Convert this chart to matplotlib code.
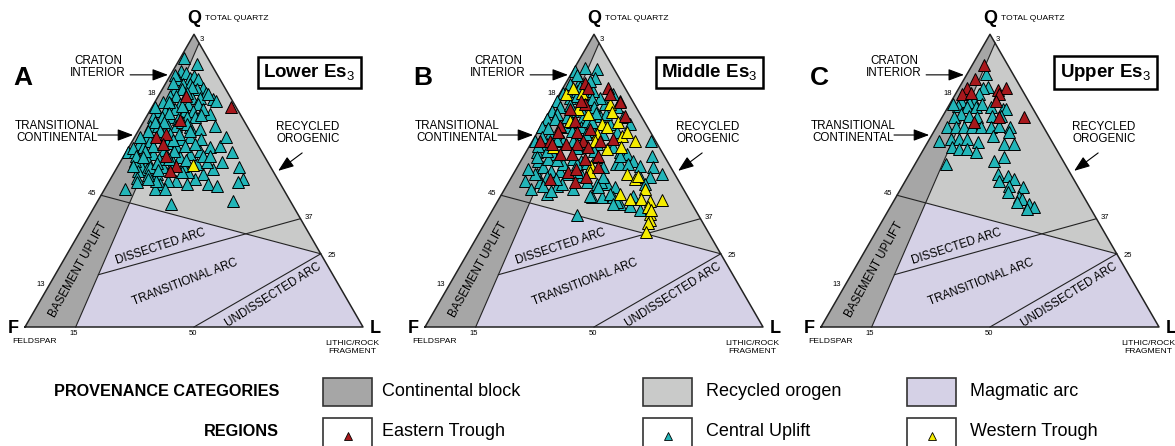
#!/usr/bin/env python3
"""QFL provenance ternary plots (Dickinson fields) for Lower/Middle/Upper Es3"""

import numpy as np
import matplotlib; matplotlib.use('Agg')
import matplotlib.pyplot as plt
from matplotlib.patches import Polygon, Rectangle

plt.rcParams['font.family'] = ['Liberation Sans', 'DejaVu Sans']
plt.rcParams['mathtext.fontset'] = 'custom'
plt.rcParams['mathtext.rm'] = 'Liberation Sans'
plt.rcParams['mathtext.bf'] = 'Liberation Sans:bold'

##########################################################
# data: (Q %, L %) for each sample, F = 100 - Q - L
lower_central = [
    (92, 1), (90, 6), (87.5, 2.4), (86.9, 4.1), (85.2, 6.2), (84.7, 3.0), (85.8, 7.1),
    (84.7, 8.9), (83, 5.1), (83, 7.3), (81.8, 11.8), (81.3, 3.7), (81.3, 5.7), (81.3, 10.1),
    (80.1, 13.6), (77.8, 16.8), (77.3, 17.9), (79, 3.4), (79, 5.3), (78.4, 10.1), (78.4, 12.5),
    (76.7, 2.5), (76.1, 5.2), (76.1, 7.7), (76.1, 10.2), (76.1, 13.1), (72.7, 18.3), (73.9, 2.0),
    (73.9, 4.5), (74.4, 7.1), (73.9, 10.4), (73.9, 12.9), (74.4, 15.5), (71.6, 2.1), (71.6, 4.6),
    (71.6, 7.1), (71, 9.8), (71.6, 12), (71.6, 14.4), (68.8, 21.8), (68.8, 2.5), (68.8, 5),
    (68.8, 8), (68.8, 10.4), (68.2, 14.7), (67.6, 17.9), (59.7, 0.7), (59.7, 2.7), (62.5, 2.6),
    (64.8, 3.6), (61.4, 4.3), (59.1, 8.4), (56.8, 8.1), (55.1, 6.9), (54, 9), (52.3, 12.8),
    (54.5, 13.6), (56.3, 15.7), (58, 16.8), (59.1, 19.3), (60.2, 21.6), (61.4, 24), (61.9, 26.6),
    (64.8, 27.2), (59.7, 31.3), (56.3, 30), (54, 28.7), (52.3, 26.6), (50.6, 24.9), (48.9, 23.4),
    (50, 19.8), (50, 17.4), (48.9, 15.5), (47.2, 14.8), (47.2, 17.8), (52.8, 21.9), (55.7, 22.9),
    (56.3, 25.6), (54.5, 36.2), (50.6, 39.2), (49.4, 38.4), (48.9, 29.8), (48.3, 32.6), (47.2, 6.0),
    (42, 22.3), (43.2, 40), (64.2, 20.1), (64.8, 16.4), (64.2, 14.2), (61.9, 13.8), (61.9, 16.3),
    (62.5, 19), (58.5, 23.4), (58.5, 25.4), (55.1, 19.2), (56.8, 4.1), (63.6, 5.1), (53.4, 6.8),
    (50, 13.9), (54.5, 9.6), (66, 10), (66, 12.5), (65.5, 7), (63, 10.5), (60.5, 11), (60, 14),
    (57.5, 11), (57, 19), (53, 20), (52, 10.5), (86, 1.5), (83.5, 2), (82, 8.5), (80, 8),
    (79.5, 14.5), (77, 4), (75, 1), (75.5, 8.8), (73, 6), (72.5, 15.8), (70, 3.5), (70, 6),
    (70, 11.5), (69.5, 13.2), (67, 3), (67, 6.5), (66.8, 15.5), (65, 1.5), (64, 11.8), (62, 7),
    (61, 1.5), (60, 5.5), (58.5, 3.5), (58, 6), (57.5, 14), (56, 11), (55, 4.5), (53.5, 12.5),
    (51, 7.5), (50.5, 11), (49.5, 8.5),
]
lower_eastern = [
    (78.8, 8.2), (75.2, 23.2), (70.7, 10.5), (64.8, 6.3), (66.1, 8.8), (62.5, 9.7), (58.5, 12.6),
    (55.1, 17.2), (53.4, 16.2),
]
lower_western = [(55.5, 22.1)]

middle_central = [
    (87.5, 0.5), (88.6, 3.0), (88.1, 6.7), (84.1, 3.8), (85.2, 7.6), (80.1, 0.9), (78.4, 3.7),
    (77.3, 0.3), (73.9, 0.5), (75, 2.4), (71, 0.5), (68.2, 0.4), (63.6, 0.7), (59.7, 3.2),
    (56.8, 5.1), (52.3, 6.9), (49.4, 9.3), (45.5, 13.3), (48.3, 14.8), (47.2, 20.2), (49.4, 23.1),
    (48.9, 26.3), (48.9, 29.3), (47.7, 32.4), (44.3, 27.2), (44.3, 30.1), (38.1, 25.8), (44.3, 33.6),
    (42, 36.6), (41.5, 39.9), (39.8, 43.6), (44.9, 39.2), (63.6, 35.2), (58.5, 37.8), (54.5, 40.3),
    (52.3, 43.9), (51.1, 38), (51.1, 41), (48.9, 40.6), (79.5, 16), (77.3, 19), (75, 19.2),
    (71.6, 22.8), (69.3, 26), (69.3, 20.1), (65.9, 19.8), (72.2, 15.6), (59.7, 27.8), (59.1, 30.1),
    (56.8, 33.2), (55.7, 28.8), (54.5, 25.5), (58, 21.7), (61.4, 24), (61.4, 17.1), (65.9, 12.4),
    (68.2, 7.8), (65.9, 6.5), (65.9, 4.0), (62.5, 4.8), (59.1, 8.4), (54.5, 7.8), (53.4, 10.7),
    (53.4, 13.2), (52.3, 15.8), (51.7, 20.5), (57.4, 15.1), (56.8, 17.9), (62.5, 19.5), (66.5, 23.5),
    (76.1, 15.2), (78.4, 12.5), (76.1, 9.8), (73.9, 6.9), (71.6, 6.1), (71.6, 11), (67, 16.3),
    (68.2, 12.2), (57.4, 7.8), (52.3, 6.4), (51.1, 10.4), (48.3, 10.9), (48.9, 16), (46.6, 14.1),
    (44.9, 26.3), (49.4, 27.5), (45.5, 31.9), (42.6, 35.4), (42, 34.7), (51.1, 27.2), (55.7, 29.8),
    (55.7, 32.3), (55.1, 36), (61.4, 25), (58.5, 28.4), (47.7, 27.4), (55.7, 13), (55.7, 17),
    (80.7, 4.5), (79.5, 8), (80.7, 9.5), (72.7, 2.6), (63.6, 9.1), (70.5, 12.6), (72.7, 17.3),
    (84.1, 6.7), (86, 2), (83, 1.5), (82, 5), (79, 5.5), (78, 10.5), (76, 5), (75, 12.5),
    (74.5, 9), (73, 14), (71, 3), (70, 8.5), (70, 14.5), (68, 2.5), (67, 10), (66, 14.5), (65, 2),
    (64, 7), (63.5, 12), (62, 2.5), (61, 14.5), (60, 6), (60, 20), (58, 4), (57, 10.5), (56, 20),
    (54, 3.5), (53, 18.5), (50.5, 13.5), (50, 4.5), (47, 8),
]
middle_eastern = [
    (83.5, 5.5), (81.8, 7.4), (81.8, 13.3), (79.5, 14.9), (76.7, 19.3), (72.2, 23), (76.1, 9.2),
    (77.3, 7.6), (74.4, 5.7), (70.5, 9.1), (68.8, 5.5), (66.5, 6.2), (63.6, 2.2), (63.6, 5.1),
    (66.5, 11.6), (63.6, 15), (67.6, 15), (63.6, 19.9), (64.2, 23.6), (62.5, 6.2), (62.5, 10.6),
    (62.5, 13.6), (61.4, 17.6), (59.1, 10.4), (59.1, 13.8), (57.4, 18.6), (58.5, 22), (52.8, 16),
    (54, 17.8), (51.1, 22.2), (50.6, 11.6), (54.5, 24), (49.4, 19.6),
]
middle_western = [
    (79.5, 2.1), (81.8, 2.9), (80.1, 6.3), (76.1, 8.3), (74.4, 8.1), (76.1, 16.6), (73.3, 18.6),
    (69.3, 17.6), (65.9, 17.8), (68.2, 19.6), (69.9, 22.2), (65.3, 25.5), (63.6, 30.3), (70.5, 7.7),
    (63.6, 18.4), (66.5, 26.4), (72.7, 12), (61.4, 7.2), (61.4, 27.4), (55.1, 21.7), (52.8, 22.4),
    (52.3, 33.5), (50.6, 36.8), (51.7, 37.2), (47.2, 41.4), (45.5, 34.9), (43.8, 38.7), (43.8, 42.1),
    (43.2, 44.9), (43.4, 48.3), (40.9, 45.5), (38.6, 47.2), (36.4, 48.5), (35.5, 48.3), (32.4, 49.3),
    (39.8, 47.1), (60.8, 23.3),
]

upper_central = [
    (86.6, 5.5), (82, 8.3), (81.6, 7), (79.5, 7), (77.3, 6.6), (76.7, 5.4), (77.3, 2.7),
    (75.6, 2.6), (76.1, 0.9), (75, 5.8), (75, 8.3), (76.1, 9.7), (75, 12.7), (72.2, 14.6),
    (74.4, 16.5), (74.4, 17.5), (72.2, 17.1), (72.7, 5), (72.2, 7.7), (71.6, 10.5), (71.6, 3.6),
    (68.2, 3.3), (68.2, 5.8), (68.2, 8.3), (68.2, 10.7), (68.2, 13.2), (68.2, 16.1), (68.8, 18.3),
    (68.2, 21.8), (66.5, 22.5), (65.3, 18.1), (63.6, 3.2), (64.2, 6.3), (64.2, 8.8), (64.2, 11.2),
    (63.1, 14.8), (62.5, 23), (62.5, 25.9), (61.4, 8.2), (60.8, 10.5), (60.8, 12.9), (59.7, 16),
    (55.7, 9.1), (56.8, 22.8), (58, 25.2), (52.3, 26.1), (51.7, 29.4), (50.6, 31.8), (50, 27.7),
    (48.3, 31.6), (47.7, 35.8), (46, 32.2), (44.3, 36.5), (43.8, 37.7), (42, 40.6), (41.1, 42.6),
    (42.6, 36.8), (40.3, 40.9),
]
upper_eastern = [
    (89.5, 3.6), (84.7, 3.2), (81.8, 2.3), (79.5, 2.1), (79.8, 4.6), (80.9, 11.8), (81.8, 13.8),
    (79.5, 13), (77.3, 13.1), (71.6, 16.9), (71.6, 24.3), (69.9, 10.4),
]
upper_western = []

panel_letters = ['A', 'B', 'C']
panel_units = ['Lower', 'Middle', 'Upper']
region_names = ['Central Uplift', 'Western Trough', 'Eastern Trough']
region_colors = ['#22b5b8', '#f4ec00', '#a8181c']
category_names = ['Continental block', 'Recycled orogen', 'Magmatic arc']
category_colors = ['#a6a6a6', '#c9cac9', '#d5d1e6']

##########################################################
def tern(q, l):
    """Ternary (Q%, L%) -> cartesian, F at origin, L at (1, 0)."""
    q = np.asarray(q, dtype=float)
    l = np.asarray(l, dtype=float)
    return l / 100 + q / 200, q / 100 * np.sqrt(3) / 2

def pt(q, l):
    x, y = tern(q, l)
    return np.array([float(x), float(y)])

def intersect(p1, p2, p3, p4):
    d1, d2 = p2 - p1, p4 - p3
    t = np.cross(p3 - p1, d2) / np.cross(d1, d2)
    return p1 + t * d1

##########################################################
def draw_panel(ax, letter, unit, groups):
    """Draw the QFL fields, labels and the samples."""
    apex, fcorn, lcorn = pt(100, 0), pt(0, 0), pt(0, 100)
    cb_top, cb_bot = pt(97, 3), pt(0, 15)
    q45, q25, q37, q13 = pt(45, 0), pt(25, 75), pt(37, 63), pt(13, 0)
    l50 = pt(0, 50)
    p_int = intersect(q45, q25, cb_top, cb_bot)
    r_int = intersect(q37, q13, cb_top, cb_bot)

    ax.add_patch(Polygon([apex, cb_top, cb_bot, fcorn], fc=category_colors[0], ec='none'))
    ax.add_patch(Polygon([cb_top, q25, p_int], fc=category_colors[1], ec='none'))
    ax.add_patch(Polygon([p_int, q25, lcorn, cb_bot], fc=category_colors[2], ec='none'))

    lw = 0.8
    for a, b in [(cb_top, cb_bot), (q45, q25), (q37, r_int), (q25, l50)]:
        ax.plot([a[0], b[0]], [a[1], b[1]], color='#222222', lw=lw)
    tri = np.array([fcorn, lcorn, apex, fcorn])
    ax.plot(tri[:, 0], tri[:, 1], color='#222222', lw=1.1)

    # samples
    for (data, color) in zip(groups, region_colors):
        if len(data) == 0:
            continue
        arr = np.array(data)
        x, y = tern(arr[:, 0], arr[:, 1])
        ax.plot(x, y, '^', ms=8.5, mfc=color, mec='black', mew=0.7, ls='none', zorder=5)

    # corner and tick labels
    ax.text(0.5, 0.913, 'Q', ha='center', va='center', fontsize=13, fontweight='bold')
    ax.text(0.533, 0.913, 'TOTAL QUARTZ', ha='left', va='center', fontsize=6.1)
    ax.text(-0.036, -0.003, 'F', ha='center', va='center', fontsize=13, fontweight='bold')
    ax.text(1.036, -0.003, 'L', ha='center', va='center', fontsize=13, fontweight='bold')
    ax.text(0.027, -0.044, 'FELDSPAR', ha='center', va='center', fontsize=6.1)
    ax.text(0.967, -0.06, 'LITHIC/ROCK\nFRAGMENT', ha='center', va='center', fontsize=6.1,
            linespacing=1.1)
    for s, x, y in [('3', 0.524, 0.852), ('18', 0.376, 0.692), ('45', 0.198, 0.396),
                    ('13', 0.047, 0.127), ('37', 0.840, 0.325), ('25', 0.908, 0.213),
                    ('15', 0.145, -0.018), ('50', 0.497, -0.018)]:
        ax.text(x, y, s, ha='center', va='center', fontsize=5.5)

    ax.text(-0.006, 0.737, letter, ha='center', va='center', fontsize=19, fontweight='bold')
    ax.text(0.842, 0.753, unit + r' Es$_{3}$', ha='center', va='center', fontsize=13.5,
            fontweight='bold',
            bbox=dict(boxstyle='square,pad=0.3', fc='white', ec='black', lw=1.8))

    # field names
    fs = 8.4
    ax.text(0.216, 0.769, 'CRATON\nINTERIOR', ha='center', va='center', fontsize=fs,
            linespacing=1.05)
    ax.text(0.095, 0.577, 'TRANSITIONAL\nCONTINENTAL', ha='center', va='center', fontsize=fs,
            linespacing=1.05)
    ax.text(0.837, 0.574, 'RECYCLED\nOROGENIC', ha='center', va='center', fontsize=fs,
            linespacing=1.05)
    arrow = dict(arrowstyle='-|>,head_length=0.8,head_width=0.3', color='black', lw=0.8,
                 mutation_scale=12, shrinkA=0, shrinkB=0)
    ax.annotate('', xy=(0.423, 0.746), xytext=(0.311, 0.746), arrowprops=arrow)
    ax.annotate('', xy=(0.320, 0.568), xytext=(0.216, 0.568), arrowprops=arrow)
    ax.annotate('', xy=(0.749, 0.462), xytext=(0.820, 0.515), arrowprops=arrow)

    ax.text(0.40, 0.237, 'DISSECTED ARC', ha='center', va='center', fontsize=fs, rotation=18)
    ax.text(0.473, 0.133, 'TRANSITIONAL ARC', ha='center', va='center', fontsize=fs, rotation=21)
    ax.text(0.734, 0.095, 'UNDISSECTED ARC', ha='center', va='center', fontsize=fs, rotation=32)
    ax.text(0.157, 0.169, 'BASEMENT UPLIFT', ha='center', va='center', fontsize=fs, rotation=61)

##########################################################
def main():
    W, H = 1175, 446
    side, base = 338, 327
    fig = plt.figure(figsize=(W / 100, H / 100), dpi=100)

    groups = [
        [lower_central, lower_western, lower_eastern],
        [middle_central, middle_western, middle_eastern],
        [upper_central, upper_western, upper_eastern],
    ]
    fx = [25, 425, 821]
    for i in range(3):
        x0 = fx[i] - 25
        w = min(400, W - x0)
        ax = fig.add_axes([x0 / W, (H - 360) / H, w / W, 360 / H])
        ax.set_xlim(-25 / side, (w - 25) / side)
        ax.set_ylim(-(360 - base) / side, base / side)
        ax.axis('off')
        draw_panel(ax, panel_letters[i], panel_units[i], groups[i])

    # legend
    lg = fig.add_axes([0, 0, 1, 86 / H])
    lg.set_xlim(0, W)
    lg.set_ylim(H, 360)
    lg.axis('off')
    lg.text(279, 392, 'PROVENANCE CATEGORIES', ha='right', va='center', fontsize=11.7,
            fontweight='bold')
    lg.text(279, 432, 'REGIONS', ha='right', va='center', fontsize=11.7, fontweight='bold')
    box_x = [323, 643, 907]
    text_x = [382, 706, 970]
    for bx, tx, name, col in zip(box_x, text_x, category_names, category_colors):
        lg.add_patch(Rectangle((bx, 378), 49, 28, fc=col, ec='#333333', lw=1.2))
        lg.text(tx, 391, name, ha='left', va='center', fontsize=13)
    legend_regions = [(region_names[2], region_colors[2]), (region_names[0], region_colors[0]),
                      (region_names[1], region_colors[1])]
    for bx, tx, (name, col) in zip(box_x, text_x, legend_regions):
        lg.add_patch(Rectangle((bx, 418), 49, 40, fc='white', ec='#333333', lw=1.2))
        lg.plot(bx + 24.5, 436, '^', ms=6, mfc=col, mec='black', mew=0.6)
        lg.text(tx, 431, name, ha='left', va='center', fontsize=13)

    fig.savefig('out.png', dpi=100)

##########################################################
if __name__ == "__main__":
    main()
